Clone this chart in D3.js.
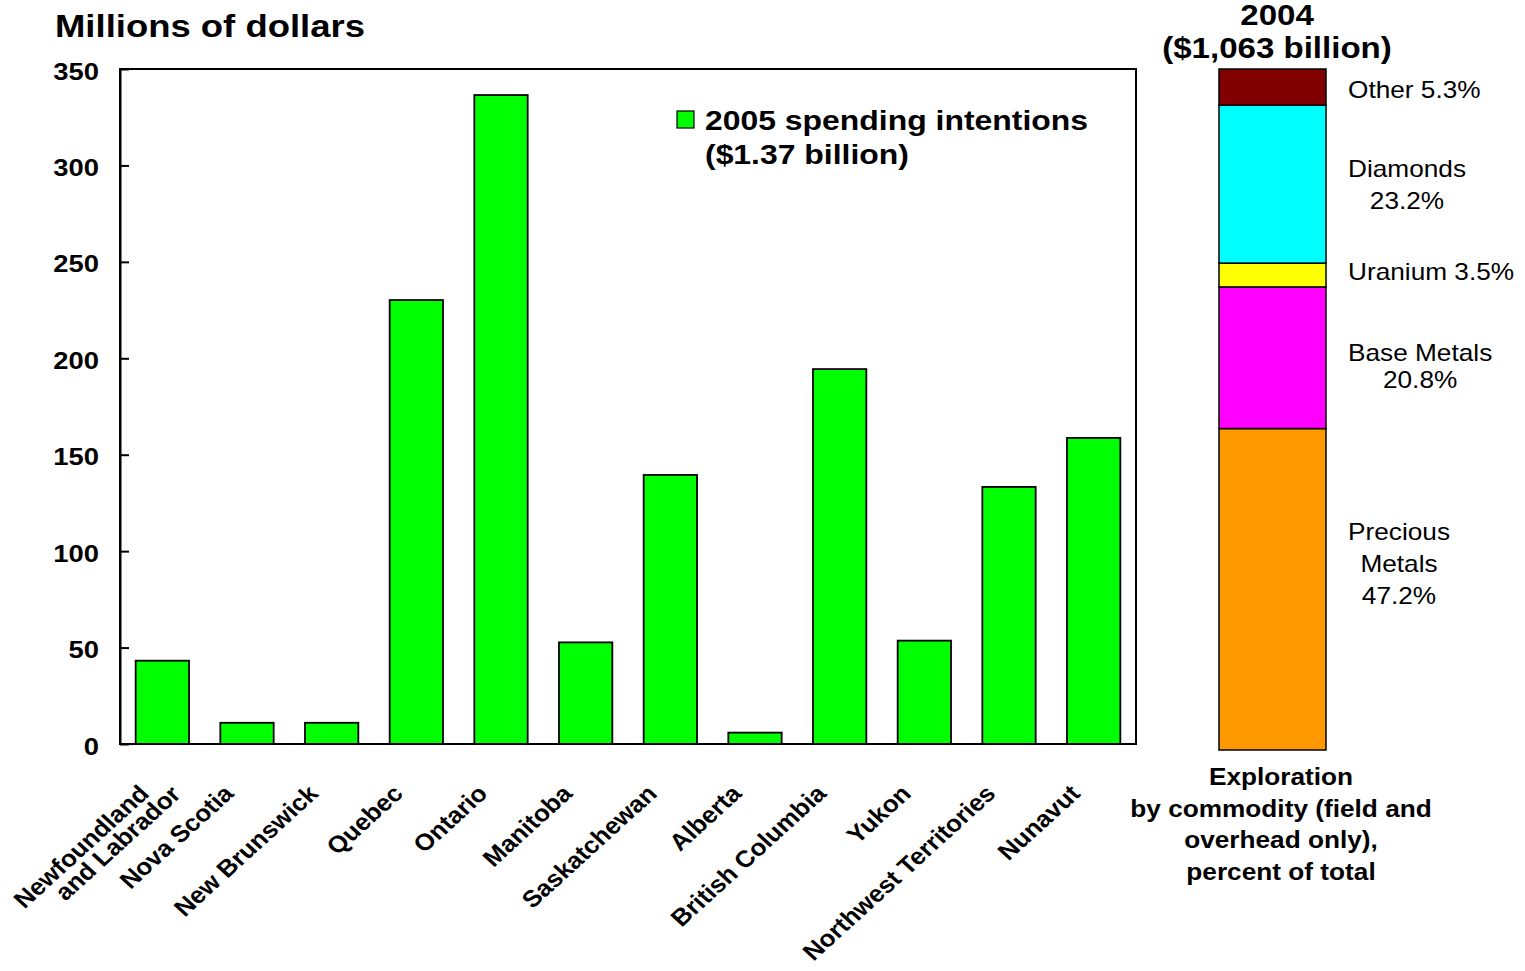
<!DOCTYPE html>
<html>
<head>
<meta charset="utf-8">
<script src="https://cdn.jsdelivr.net/npm/d3@7"></script>
<style>
  html, body { margin: 0; padding: 0; background: #ffffff; }
  svg { display: block; }
</style>
</head>
<body>
<svg id="chart" width="1525" height="971"></svg>
<script>
// ---------------- data ----------------
const provinces = [
  "Newfoundland\nand Labrador", "Nova Scotia", "New Brunswick", "Quebec", "Ontario",
  "Manitoba", "Saskatchewan", "Alberta", "British Columbia", "Yukon",
  "Northwest Territories", "Nunavut"
];
const spending2005 = [43.2, 11.0, 11.0, 230.2, 336.5, 52.7, 139.5, 5.9, 194.4, 53.6, 133.3, 158.7];
const yTicks = [0, 50, 100, 150, 200, 250, 300, 350];
const legendLines = ["2005 spending intentions", "($1.37 billion)"];

const commodities = ["Precious Metals", "Base Metals", "Uranium", "Diamonds", "Other"];
const shares2004 = [47.2, 20.8, 3.5, 23.2, 5.3];
const commodityLabelLines = [
  ["Precious", "Metals", "47.2%"],
  ["Base Metals", "20.8%"],
  ["Uranium 3.5%"],
  ["Diamonds", "23.2%"],
  ["Other 5.3%"]
];
const commodityColors = ["#FF9900", "#FF00FF", "#FFFF00", "#00FFFF", "#800000"];
const stackTitle = ["2004", "($1,063 billion)"];
const stackCaption = ["Exploration", "by commodity (field and", "overhead only),", "percent of total"];
const yTitle = "Millions of dollars";

// ---------------- layout ----------------
const SX = 1.14; // horizontal stretch of the original picture
const FONT = "Arial, 'Liberation Sans', Helvetica, sans-serif";
const svg = d3.select("#chart");

function stext(sel, x, y, str, size, weight, anchor) {
  return sel.append("text")
    .attr("transform", `translate(${x},${y}) scale(${SX},1)`)
    .attr("text-anchor", anchor || "start")
    .style("font-family", FONT)
    .style("font-size", size + "px")
    .style("font-weight", weight || "normal")
    .style("fill", "#000")
    .text(str);
}

const plot = { left: 120, right: 1136, top: 69, bottom: 744 };

const x = d3.scaleBand()
  .domain(provinces)
  .range([plot.left, plot.right])
  .paddingInner(0.37)
  .paddingOuter(0.185);

const y = d3.scaleLinear().domain([0, 350]).range([plot.bottom, plot.top]);

// title
stext(svg, 55, 37, yTitle, 32, "bold");

// bars
svg.append("g").selectAll("rect")
  .data(provinces.map((p, i) => ({ p, v: spending2005[i] })))
  .join("rect")
  .attr("x", d => x(d.p))
  .attr("width", x.bandwidth())
  .attr("y", d => y(d.v))
  .attr("height", d => y(0) - y(d.v))
  .attr("fill", "#00FF00")
  .attr("stroke", "#000")
  .attr("stroke-width", 1.8);

// frame
svg.append("rect")
  .attr("x", plot.left).attr("y", plot.top)
  .attr("width", plot.right - plot.left).attr("height", plot.bottom - plot.top)
  .attr("fill", "none").attr("stroke", "#000").attr("stroke-width", 2);

// y axis
const yAxis = svg.append("g")
  .attr("transform", `translate(${plot.left},0)`)
  .call(d3.axisLeft(y).tickValues(yTicks).tickSizeInner(-9).tickSizeOuter(0).tickPadding(21));
yAxis.select(".domain").attr("stroke", "#000").attr("stroke-width", 2);
yAxis.selectAll(".tick line").attr("stroke", "#000").attr("stroke-width", 2);
yAxis.selectAll(".tick text")
  .attr("x", null).attr("dy", null)
  .attr("transform", `translate(-21,10) scale(${SX},1)`)
  .style("font-family", FONT).style("font-size", "24px").style("font-weight", "bold")
  .attr("fill", "#000");

// x labels
const xl = svg.append("g");
provinces.forEach(p => {
  const cx = x(p) + x.bandwidth() / 2;
  const g = xl.append("g")
    .attr("transform", `translate(${cx - 12},795) scale(1.1,1) rotate(-45)`);
  const lines = p.split("\n");
  lines.forEach((ln, j) => {
    g.append("text")
      .attr("x", j * 20).attr("y", j * 21)
      .attr("text-anchor", "end")
      .style("font-family", FONT).style("font-size", "23.5px").style("font-weight", "bold")
      .text(ln);
  });
});

// legend
svg.append("rect")
  .attr("x", 677).attr("y", 111).attr("width", 17).attr("height", 17)
  .attr("fill", "#00FF00").attr("stroke", "#000").attr("stroke-width", 1.2);
stext(svg, 705, 130, legendLines[0], 28, "bold");
stext(svg, 705, 164, legendLines[1], 28, "bold");

// ---------------- stacked 2004 bar ----------------
const sb = { left: 1219, right: 1326, top: 69, bottom: 750 };
const ys = d3.scaleLinear().domain([0, 100]).range([sb.bottom, sb.top]);
const ends = d3.cumsum(shares2004);
const segs = commodities.map((c, i) => ({
  c, i, y0: ends[i] - shares2004[i], y1: ends[i]
}));
svg.append("g").selectAll("rect")
  .data(segs)
  .join("rect")
  .attr("x", sb.left).attr("width", sb.right - sb.left)
  .attr("y", d => ys(d.y1))
  .attr("height", d => ys(d.y0) - ys(d.y1))
  .attr("fill", d => commodityColors[d.i])
  .attr("stroke", "#000").attr("stroke-width", 1.5);

// segment labels
const labelShift = [-25, 9, -3, 1, 3];
const labelLead = [32, 27, 32, 32, 32];
const lblX = 1348;
segs.forEach(d => {
  const lines = commodityLabelLines[d.i];
  const mid = (ys(d.y0) + ys(d.y1)) / 2 + labelShift[d.i];
  const lead = labelLead[d.i];
  const firstTop = mid - (lines.length - 1) * lead / 2;
  const probe = stext(svg, 0, 0, lines[0], 23, "normal");
  const w = probe.node().getComputedTextLength() * SX;
  probe.remove();
  const cx = lblX + w / 2;
  lines.forEach((ln, j) => {
    stext(svg, cx, firstTop + j * lead + 8, ln, 23, "normal", "middle");
  });
});

// stack title & caption
const scx = 1277;
stext(svg, scx, 25, stackTitle[0], 29, "bold", "middle");
stext(svg, scx, 58, stackTitle[1], 29, "bold", "middle");
stackCaption.forEach((ln, j) => {
  stext(svg, 1281, 785 + j * 31.7, ln, 23, "bold", "middle");
});
</script>
</body>
</html>
